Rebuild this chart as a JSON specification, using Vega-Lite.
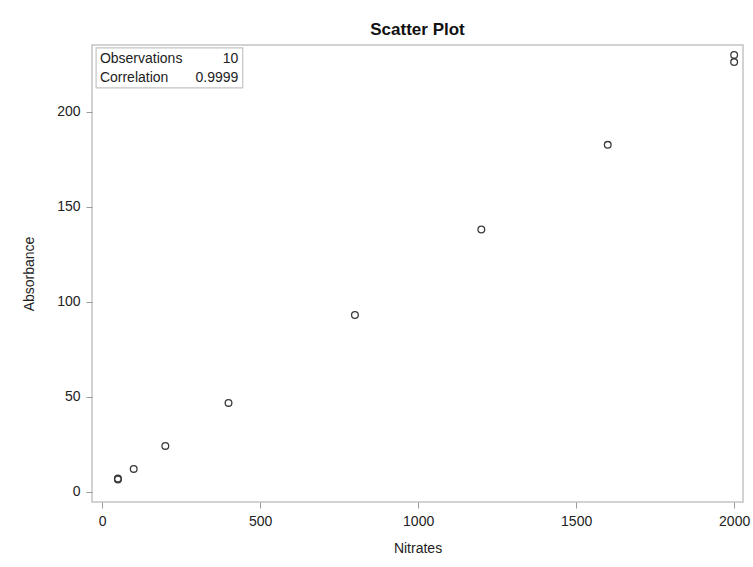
{
  "$schema": "https://vega.github.io/schema/vega-lite/v6.json",
  "width": 651,
  "height": 457,
  "autosize": "none",
  "padding": {"left": 92, "top": 45, "right": 10, "bottom": 65},
  "background": "white",
  "title": {"text": "Scatter Plot", "font": "Liberation Sans", "fontSize": 17, "fontWeight": "bold", "color": "#111", "anchor": "middle", "offset": 6},
  "datasets": {
    "points": [
      {"Nitrates": 50, "Absorbance": 7.0},
      {"Nitrates": 50, "Absorbance": 6.5},
      {"Nitrates": 100, "Absorbance": 12.1},
      {"Nitrates": 200, "Absorbance": 24.2},
      {"Nitrates": 400, "Absorbance": 46.8},
      {"Nitrates": 800, "Absorbance": 93.0},
      {"Nitrates": 1200, "Absorbance": 138.0},
      {"Nitrates": 1600, "Absorbance": 182.5},
      {"Nitrates": 2000, "Absorbance": 226.0},
      {"Nitrates": 2000, "Absorbance": 229.8}
    ],
    "inset": [
      {"label": "Observations", "value": "10", "row": 1},
      {"label": "Correlation", "value": "0.9999", "row": 2}
    ]
  },
  "config": {
    "view": {"stroke": "#c4c4c4", "strokeWidth": 1.5},
    "axis": {
      "domain": false,
      "grid": false,
      "tickColor": "#9a9a9a",
      "tickSize": 6,
      "labelFont": "Liberation Sans",
      "labelFontSize": 14,
      "labelColor": "#222",
      "titleFont": "Liberation Sans",
      "titleFontSize": 14,
      "titleFontWeight": "normal",
      "titleColor": "#222"
    }
  },
  "layer": [
    {
      "data": {"name": "points"},
      "mark": {"type": "point", "shape": "circle", "filled": false, "size": 45, "stroke": "#3a3a3a", "strokeWidth": 1.3, "opacity": 1},
      "encoding": {
        "x": {"field": "Nitrates", "type": "quantitative", "scale": {"domain": [-32, 2028], "nice": false, "zero": false}, "axis": {"values": [0, 500, 1000, 1500, 2000], "format": "d", "title": "Nitrates", "labelPadding": 6, "titlePadding": 13}},
        "y": {"field": "Absorbance", "type": "quantitative", "scale": {"domain": [-5.3, 235], "nice": false, "zero": false}, "axis": {"values": [0, 50, 100, 150, 200], "title": "Absorbance", "labelPadding": 6, "titlePadding": 20}}
      }
    },
    {
      "data": {"values": [{"x1": -19, "x2": 445, "y1": 212.5, "y2": 233.5}]},
      "mark": {"type": "rect", "fill": "white", "stroke": "#c4c4c4", "strokeWidth": 1.2},
      "encoding": {
        "x": {"field": "x1", "type": "quantitative"},
        "x2": {"field": "x2"},
        "y": {"field": "y1", "type": "quantitative"},
        "y2": {"field": "y2"}
      }
    },
    {
      "data": {"name": "inset"},
      "transform": [{"calculate": "datum.row == 1 ? 227.5 : 217.8", "as": "ypos"}],
      "mark": {"type": "text", "align": "left", "baseline": "middle", "font": "Liberation Sans", "fontSize": 14, "color": "#222"},
      "encoding": {
        "x": {"datum": -7, "type": "quantitative"},
        "y": {"field": "ypos", "type": "quantitative"},
        "text": {"field": "label"}
      }
    },
    {
      "data": {"name": "inset"},
      "transform": [{"calculate": "datum.row == 1 ? 227.5 : 217.8", "as": "ypos"}],
      "mark": {"type": "text", "align": "right", "baseline": "middle", "font": "Liberation Sans", "fontSize": 14, "color": "#222"},
      "encoding": {
        "x": {"datum": 431, "type": "quantitative"},
        "y": {"field": "ypos", "type": "quantitative"},
        "text": {"field": "value"}
      }
    }
  ]
}
